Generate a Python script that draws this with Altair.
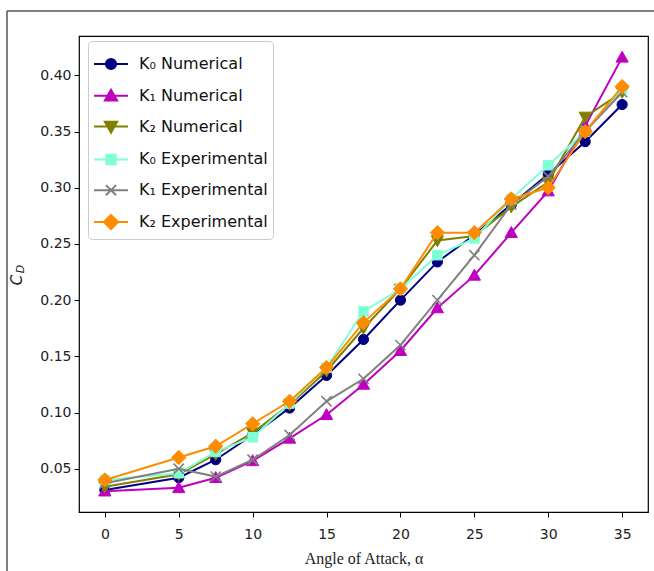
import altair as alt
import pandas as pd
import json

# ---- data ----
angles = [0, 5, 7.5, 10, 12.5, 15, 17.5, 20, 22.5, 25, 27.5, 30, 32.5, 35]

k0_numerical = [0.031, 0.042, 0.058, 0.080, 0.104, 0.133, 0.165, 0.200, 0.234, 0.258, 0.285, 0.312, 0.341, 0.374]
k1_numerical = [0.030, 0.033, 0.042, 0.057, 0.077, 0.098, 0.125, 0.155, 0.193, 0.222, 0.260, 0.297, 0.355, 0.416]
k2_numerical = [0.034, 0.045, 0.063, 0.082, 0.107, 0.137, 0.175, 0.210, 0.253, 0.257, 0.283, 0.305, 0.363, 0.385]
k0_experimental = [0.040, 0.046, 0.065, 0.078, 0.108, 0.140, 0.190, 0.210, 0.240, 0.255, 0.290, 0.320, 0.350, 0.388]
k1_experimental = [0.037, 0.050, 0.043, 0.058, 0.080, 0.110, 0.130, 0.160, 0.200, 0.240, 0.285, 0.310, 0.350, 0.385]
k2_experimental = [0.040, 0.060, 0.070, 0.090, 0.110, 0.140, 0.180, 0.210, 0.260, 0.260, 0.290, 0.300, 0.350, 0.390]

series_names = ["K\u2080 Numerical", "K\u2081 Numerical", "K\u2082 Numerical",
                "K\u2080 Experimental", "K\u2081 Experimental", "K\u2082 Experimental"]
series_values = [k0_numerical, k1_numerical, k2_numerical,
                 k0_experimental, k1_experimental, k2_experimental]

x_ticks = [0, 5, 10, 15, 20, 25, 30, 35]
y_ticks = [0.05, 0.10, 0.15, 0.20, 0.25, 0.30, 0.35, 0.40]

# ---- styling ----
colors = ["#000080", "#bf00bf", "#808000", "#7fffd4", "#808080", "#ff8c00"]
# marker paths in unit coordinates (1 unit = 17 px at size 1156)
shapes = [
    "M-0.3,0A0.3,0.3,0,1,0,0.3,0A0.3,0.3,0,1,0,-0.3,0Z",            # circle
    "M0,-0.36L0.36,0.28L-0.36,0.28Z",                                # triangle up
    "M0,0.36L0.36,-0.28L-0.36,-0.28Z",                               # triangle down
    "M-0.28,-0.28H0.28V0.28H-0.28Z",                                 # square
    "M-0.3,-0.3L0.3,0.3M-0.3,0.3L0.3,-0.3",                          # x
    "M0,-0.42L0.42,0L0,0.42L-0.42,0Z",                               # diamond
]
MARK_SIZE = 1156

rows = []
for name, vals in zip(series_names, series_values):
    for a, v in zip(angles, vals):
        rows.append({"series": name, "angle": a, "cd": v})
df = pd.DataFrame(rows)

x_enc = alt.X(
    "angle:Q",
    scale=alt.Scale(domain=[-1.75, 36.75], nice=False, zero=False),
    axis=alt.Axis(values=x_ticks, title="Angle of Attack, \u03b1", format="d",
                  grid=False, domain=False, tickColor="#000", tickSize=5,
                  labelFont="DejaVu Sans", labelFontSize=14, labelColor="#222",
                  labelPadding=10, titleFont="Liberation Serif", titleFontSize=16,
                  titleFontWeight="normal", titleColor="#222", titlePadding=9),
)
y_enc = alt.Y(
    "cd:Q",
    scale=alt.Scale(domain=[0.0115, 0.4350], nice=False, zero=False),
    axis=alt.Axis(values=y_ticks, title=None, format=".2f",
                  grid=False, domain=False, tickColor="#000", tickSize=5,
                  labelFont="DejaVu Sans", labelFontSize=14, labelColor="#222",
                  labelPadding=3),
)

color_scale = alt.Scale(domain=series_names, range=colors)
shape_lookup = "[" + ",".join(json.dumps(s) for s in shapes) + "]"

legend = alt.Legend(
    title=None, orient="none", legendX=9, legendY=5,
    padding=5, strokeColor="#cccccc", fillColor="white", cornerRadius=4,
    labelFont="DejaVu Sans", labelFontSize=16, labelColor="#111",
    labelOffset=10, rowPadding=3.8, symbolSize=MARK_SIZE, symbolStrokeWidth=2,
    symbolType={"expr": "'M-1,0H1' + " + shape_lookup + "[indexof(domain('color'), datum.value)]"},
    symbolStrokeColor={"expr": "scale('color', datum.value)"},
    symbolFillColor={"expr": "scale('color', datum.value)"},
    symbolOpacity=1,
)

legend_layer = alt.Chart(df).transform_filter("false").mark_point(filled=True).encode(
    x=x_enc, y=y_enc,
    color=alt.Color("series:N", scale=color_scale, legend=legend),
)

layers = [legend_layer]
for i, name in enumerate(series_names):
    sub = alt.Chart(df).transform_filter(alt.datum.series == name)
    line = sub.mark_line(color=colors[i], strokeWidth=2).encode(x=x_enc, y=y_enc)
    pts = sub.mark_point(shape=shapes[i], size=MARK_SIZE, fill=colors[i], stroke=colors[i],
                         strokeWidth=1.6 if i == 4 else 1, filled=(i != 4),
                         opacity=1).encode(x=x_enc, y=y_enc)
    layers += [line, pts]

one = alt.InlineData(values=[{"k": 1}])
title_c = alt.Chart(one).mark_text(text="C", angle=270, font="DejaVu Sans", fontStyle="italic",
                                   fontSize=15, color="#222").encode(x=alt.value(-62), y=alt.value(244))
title_d = alt.Chart(one).mark_text(text="D", angle=270, font="DejaVu Sans", fontStyle="italic",
                                   fontSize=11, color="#222").encode(x=alt.value(-58), y=alt.value(233))
frame_left = alt.Chart(one).mark_rule(color="#555", strokeWidth=1.5).encode(
    x=alt.value(-72), y=alt.value(-25), y2=alt.value(540))
frame_top = alt.Chart(one).mark_rule(color="#555", strokeWidth=1.5).encode(
    x=alt.value(-72), x2=alt.value(580), y=alt.value(-25))

layers += [title_c, title_d, frame_left, frame_top]

chart = alt.layer(*layers).properties(
    width=569, height=476,
    padding={"left": 79, "top": 36, "right": 6, "bottom": 59},
    autosize=alt.AutoSizeParams(type="none"),
    background="white",
).configure_view(stroke="#000", strokeWidth=1.2)

chart.save("out.html", embed_options={"renderer": "svg", "actions": False})
